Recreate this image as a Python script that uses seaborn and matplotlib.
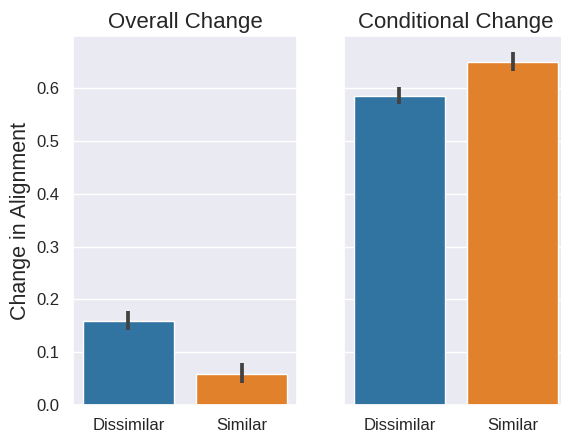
import matplotlib
matplotlib.use("Agg")
import matplotlib.pyplot as plt
import numpy as np
import pandas as pd
import seaborn as sns

# valeurs
categories = ["Dissimilar", "Similar"]
overall_mean = [0.159, 0.059]
overall_lo = [0.142, 0.041]
overall_hi = [0.178, 0.079]
conditional_mean = [0.585, 0.649]
conditional_lo = [0.571, 0.632]
conditional_hi = [0.603, 0.669]
titles = ["Overall Change", "Conditional Change"]

sns.set_theme(style="darkgrid")
plt.rcParams["font.family"] = ["Liberation Sans", "DejaVu Sans"]

palette = sns.color_palette("tab10")[:2]

fig = plt.figure(figsize=(5.61, 4.34), dpi=100)
ax1 = fig.add_axes([73 / 561, 29 / 434, 224 / 561, 369 / 434])
ax2 = fig.add_axes([344 / 561, 29 / 434, 224 / 561, 369 / 434], sharey=ax1)

panels = [
    (ax1, overall_mean, overall_lo, overall_hi),
    (ax2, conditional_mean, conditional_lo, conditional_hi),
]

for (ax, means, lo, hi), title in zip(panels, titles):
    df = pd.DataFrame({"cond": categories, "val": means})
    sns.barplot(data=df, x="cond", y="val", hue="cond", palette=palette,
                saturation=0.75, errorbar=None, legend=False, ax=ax, width=0.8)
    for i in range(len(categories)):
        ax.plot([i, i], [lo[i], hi[i]], color="#424242", lw=2.7,
                solid_capstyle="butt")
    ax.set_title(title, fontsize=16)
    ax.set_xlabel("")
    ax.set_ylabel("")
    ax.tick_params(labelsize=12)

ax1.set_ylabel("Change in Alignment", fontsize=15.5)
ax1.set_ylim(0, 0.699)
ax1.set_yticks([0.0, 0.1, 0.2, 0.3, 0.4, 0.5, 0.6])
ax2.tick_params(labelleft=False)

fig.savefig("out.png", dpi=100)
